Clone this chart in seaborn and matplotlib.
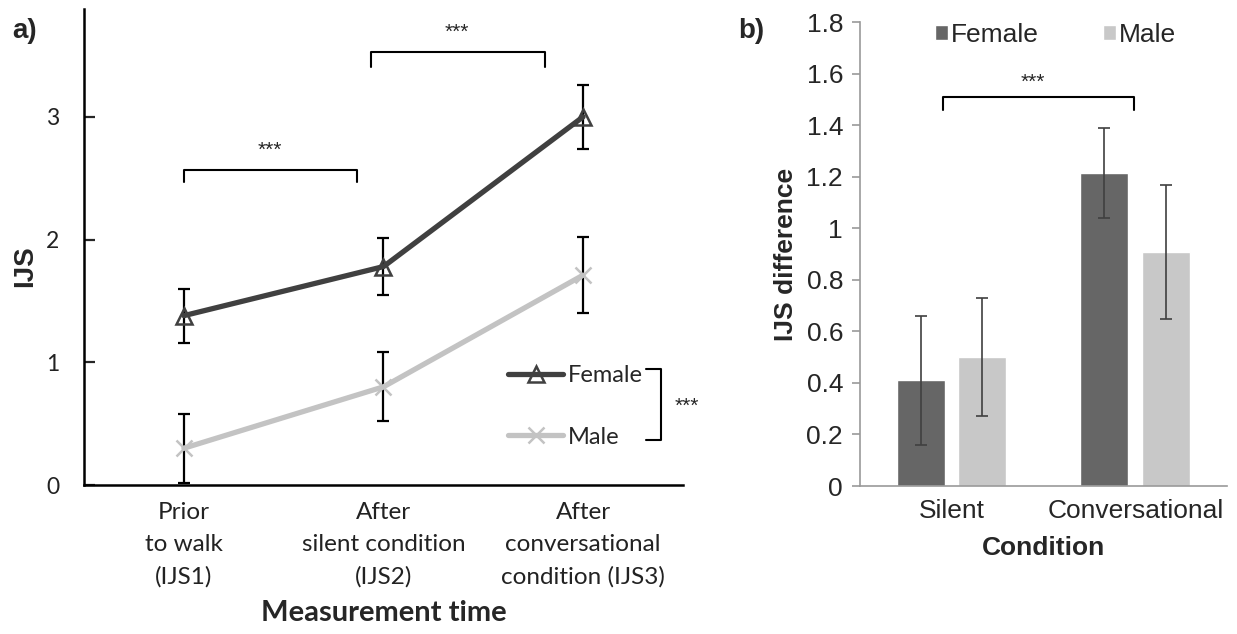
import pandas as pd
import matplotlib
matplotlib.use("Agg")
import matplotlib.pyplot as plt
import seaborn as sns
from matplotlib.ticker import FixedLocator, FuncFormatter

# panel a: IJS at three measurement times (mean and error)
times = ["Prior\nto walk\n(IJS1)", "After\nsilent condition\n(IJS2)",
         "After\nconversational\ncondition (IJS3)"]
female_ijs = [1.38, 1.78, 3.00]
female_err = [0.22, 0.23, 0.26]
male_ijs = [0.30, 0.80, 1.71]
male_err = [0.28, 0.28, 0.31]

# panel b: IJS difference per condition
conditions = ["Silent", "Conversational"]
female_diff = [0.41, 1.215]
female_diff_err = [0.25, 0.175]
male_diff = [0.50, 0.91]
male_diff_err = [0.23, 0.26]

sns.set_style("white")
plt.rcParams["font.family"] = ["Lato", "DejaVu Sans"]

fig = plt.figure(figsize=(12.37, 6.34), dpi=100)

# ---------------- panel a ----------------
ax = fig.add_axes([0.068, 0.235, 0.484, 0.751])
df_f = pd.DataFrame({"pos": range(len(times)), "ijs": female_ijs})
df_m = pd.DataFrame({"pos": range(len(times)), "ijs": male_ijs})

ax.errorbar(df_f["pos"], df_f["ijs"], yerr=female_err, fmt="none", ecolor="black",
            elinewidth=1.6, capsize=4.5, capthick=1.6, zorder=1)
ax.errorbar(df_m["pos"], df_m["ijs"], yerr=male_err, fmt="none", ecolor="black",
            elinewidth=1.6, capsize=4.5, capthick=1.6, zorder=1)
sns.lineplot(data=df_f, x="pos", y="ijs", ax=ax, color="#404040", lw=3.8,
             marker="^", markersize=12, markerfacecolor="none",
             markeredgecolor="#404040", markeredgewidth=1.8, label="Female", zorder=3)
sns.lineplot(data=df_m, x="pos", y="ijs", ax=ax, color="#c3c3c3", lw=3.8,
             marker="x", markersize=12, markeredgecolor="#c3c3c3",
             markeredgewidth=1.8, label="Male", zorder=3)

ax.set_xlim(-0.5, 2.5)
ax.set_ylim(0, 3.88)
ax.set_yticks([0, 1, 2, 3])
ax.xaxis.set_major_locator(FixedLocator([-0.5, 0.5, 1.5, 2.5]))
ax.xaxis.set_minor_locator(FixedLocator([0, 1, 2]))
ax.set_xticklabels([])
ax.set_xticklabels(times, minor=True, linespacing=1.65)
ax.tick_params(axis="x", which="major", direction="in", length=8, width=1.6)
ax.tick_params(axis="x", which="minor", length=0, pad=12, labelsize=17.5, labelcolor="#222222")
ax.tick_params(axis="y", direction="in", length=8, width=1.6, pad=18,
               labelsize=16.5, labelcolor="#222222", left=True)
for s in ["top", "right"]:
    ax.spines[s].set_visible(False)
for s in ["left", "bottom"]:
    ax.spines[s].set_color("black")
    ax.spines[s].set_linewidth(1.8)
ax.set_xlabel("Measurement time", fontsize=21, fontweight="bold", labelpad=9)
ax.set_ylabel("IJS", fontsize=20, fontweight="bold", family="Liberation Sans")
ax.yaxis.set_label_coords(-0.077, 0.46)

# significance brackets
ax.plot([0, 0, 0.865, 0.865], [2.47, 2.57, 2.57, 2.47], color="black", lw=1.5)
ax.text(0.43, 2.65, "***", ha="center", va="bottom", fontsize=15, family="Liberation Sans")
ax.plot([0.94, 0.94, 1.81, 1.81], [3.41, 3.53, 3.53, 3.41], color="black", lw=1.5)
ax.text(1.37, 3.61, "***", ha="center", va="bottom", fontsize=15, family="Liberation Sans")

ax.legend(loc="center left", bbox_to_anchor=(0.673, 0.165), frameon=False,
          fontsize=17, handlelength=2.33, handletextpad=0.2, labelspacing=1.72)
ax.plot([2.315, 2.39, 2.39, 2.315], [0.945, 0.945, 0.367, 0.367], color="black", lw=1.5,
        clip_on=False)
ax.text(2.52, 0.64, "***", ha="center", va="center", fontsize=15,
        family="Liberation Sans", clip_on=False)

fig.text(0.010, 0.94, "a)", fontsize=20, fontweight="bold", family="Liberation Sans")

# ---------------- panel b ----------------
bx = fig.add_axes([0.695, 0.2334, 0.297, 0.7316])
df_b = pd.DataFrame({
    "condition": conditions * 2,
    "sex": ["Female"] * len(conditions) + ["Male"] * len(conditions),
    "diff": female_diff + male_diff,
})
sns.barplot(data=df_b, x="condition", y="diff", hue="sex", ax=bx,
            palette={"Female": "#666666", "Male": "#c8c8c8"},
            width=0.67, gap=0.22, errorbar=None, saturation=1)

errs = {"Female": female_diff_err, "Male": male_diff_err}
for cont, sex in zip(bx.containers, ["Female", "Male"]):
    xs = [b.get_x() + b.get_width() / 2 for b in cont]
    ys = [b.get_height() for b in cont]
    bx.errorbar(xs, ys, yerr=errs[sex], fmt="none", ecolor="#404040",
                elinewidth=1.2, capsize=4.5, capthick=1.2)

bx.set_xlim(-0.5, 1.5)
bx.set_ylim(0, 1.8)
bx.set_yticks([0, 0.2, 0.4, 0.6, 0.8, 1.0, 1.2, 1.4, 1.6, 1.8])
bx.yaxis.set_major_formatter(FuncFormatter(lambda v, p: f"{v:g}"))
for lab in bx.get_xticklabels() + bx.get_yticklabels():
    lab.set_family("Liberation Sans")
bx.tick_params(axis="y", direction="out", length=6, width=1.2, color="#999999",
               labelsize=19, pad=6, left=True)
bx.tick_params(axis="x", length=0, labelsize=19, pad=9)
for s in ["top", "right"]:
    bx.spines[s].set_visible(False)
for s in ["left", "bottom"]:
    bx.spines[s].set_color("#999999")
    bx.spines[s].set_linewidth(1.2)
bx.set_xlabel("Condition", fontsize=19, fontweight="bold", family="Liberation Sans", labelpad=10)
bx.set_ylabel("IJS difference", fontsize=19, fontweight="bold", family="Liberation Sans",
              labelpad=6)

bx.plot([-0.048, -0.048, 0.993, 0.993], [1.46, 1.51, 1.51, 1.46], color="black", lw=1.5)
bx.text(0.443, 1.53, "***", ha="center", va="bottom", fontsize=15, family="Liberation Sans")

bx.legend(loc="upper center", bbox_to_anchor=(0.533, 1.05), ncol=2, frameon=False,
          prop={"family": "Liberation Sans", "size": 19}, handlelength=0.5,
          handleheight=0.5, handletextpad=0.1, columnspacing=2.45)

fig.text(0.597, 0.94, "b)", fontsize=20, fontweight="bold", family="Liberation Sans")

fig.savefig("out.png", dpi=100)
